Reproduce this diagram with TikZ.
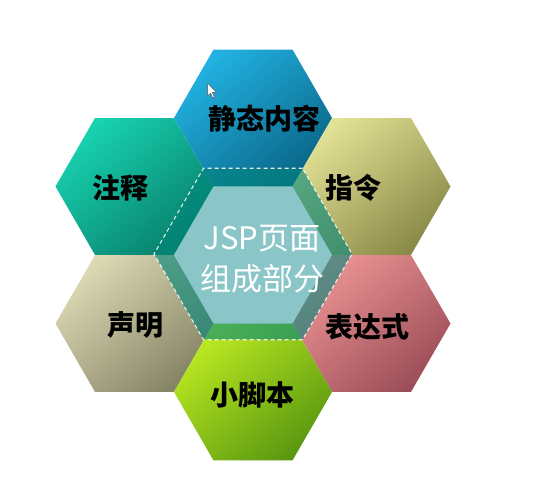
\documentclass[tikz,border=0pt]{standalone}
\usepackage{fontspec}
\usetikzlibrary{shapes.geometric}
\newfontfamily\cjk{Noto Sans CJK SC}
\definecolor{tA}{HTML}{22B2E2}\definecolor{tB}{HTML}{0A6688}
\definecolor{lA}{HTML}{18D2B0}\definecolor{lB}{HTML}{08806C}
\definecolor{rA}{HTML}{E2E296}\definecolor{rB}{HTML}{8A8A48}
\definecolor{qA}{HTML}{EC9494}\definecolor{qB}{HTML}{9C4E58}
\definecolor{bA}{HTML}{BCEA22}\definecolor{bB}{HTML}{5A9810}
\definecolor{mA}{HTML}{DCDAB4}\definecolor{mB}{HTML}{868466}
\definecolor{ringc}{HTML}{00857A}
\definecolor{innerc}{HTML}{8AC6C8}
\begin{document}
\begin{tikzpicture}[x=1pt,y=-1pt,
  hexa/.style={shape=regular polygon, regular polygon sides=6, minimum size=158pt, inner sep=0pt, outer sep=0pt, draw=none},
  lab/.style={font=\cjk\bfseries\fontsize{28}{30}\selectfont, text=black, inner sep=0pt},
  ctr/.style={font=\cjk\fontsize{31}{41}\selectfont, text=white, align=center, inner sep=0pt}]
\useasboundingbox (0,0) rectangle (535,494);
\fill[white] (0,0) rectangle (535,494);
% outer hexagons
\node[hexa, top color=tA, bottom color=tB, shading angle=40] (hT) at (253,118) {};
\node[hexa, top color=lA, bottom color=lB, shading angle=40] (hL) at (134.5,186.5) {};
\node[hexa, top color=rA, bottom color=rB, shading angle=40] (hR) at (371.5,186.5) {};
\node[hexa, top color=qA, bottom color=qB, shading angle=40] (hQ) at (371.5,323.5) {};
\node[hexa, top color=mA, bottom color=mB, shading angle=40] (hM) at (134.5,323.5) {};
\node[hexa, top color=bA, bottom color=bB, shading angle=40] (hB) at (253,392) {};
% ring overlay, inner hexagon, dashed outline
\node[hexa, minimum size=198pt, fill=ringc, fill opacity=0.6] (ring) at (253,254) {};
\node[hexa, fill=innerc] (hC) at (253,255) {};
\node[hexa, minimum size=198pt, draw=white, draw opacity=0.85, dashed, dash pattern=on 4pt off 3pt, line width=1.1pt] (dsh) at (253,254) {};
% labels
\node[lab] (tT) at (264,119) {静态内容};
\node[lab] (tL) at (120,188) {注释};
\node[lab] (tR) at (353,188) {指令};
\node[lab] (tQ) at (367,327) {表达式};
\node[lab] (tM) at (135,325) {声明};
\node[lab] (tB) at (252,395) {小脚本};
\node[ctr] (tC) at (262,259) {JSP页面\\组成部分};
% mouse pointer
\draw[fill=white, draw=gray!70!black, line width=0.5pt, line join=round]
  (207.5,83) -- (207.5,96) -- (210.5,93.2) -- (212.6,97.8) -- (214.4,97) -- (212.3,92.5) -- (216.5,92.5) -- cycle;
\end{tikzpicture}
\end{document}
